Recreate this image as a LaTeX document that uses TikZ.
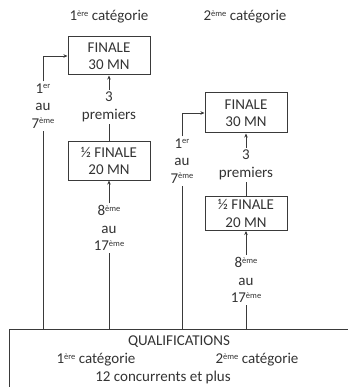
\documentclass[tikz,border=0pt]{standalone}
\usepackage{fontspec}
\setmainfont{Carlito}
\usetikzlibrary{arrows.meta}
\definecolor{ink}{HTML}{333333}
\definecolor{edge}{HTML}{3A3A3A}
\newcommand\supx[1]{\raisebox{0.62ex}{\smash{\fontsize{8.5}{8.5}\selectfont #1}}}
\begin{document}
\begin{tikzpicture}[x=1pt,y=-1pt,
 every node/.style={text=ink, font=\fontsize{15}{17.5}\selectfont},
 box/.style={draw=edge, line width=1pt, minimum width=82pt, align=center, inner sep=0pt},
 lbl/.style={align=center, inner sep=2pt},
 conn/.style={draw=edge, line width=0.8pt},
 arr/.style={conn, -{Stealth[length=4pt,width=3.5pt]}}]
\useasboundingbox (0,0) rectangle (347,387);

\node (c1) at (109,17) {1\supx{ère} catégorie};
\node (c2) at (245,17) {2\supx{ème} catégorie};

\node[box, minimum height=38pt] (F1) at (109,56) {FINALE\\30 MN};
\node[box, minimum height=38pt] (S1) at (109,161) {½ FINALE\\20 MN};
\node[box, minimum height=40pt] (F2) at (246,113) {FINALE\\30 MN};
\node[box, minimum height=34pt] (S2) at (246,213.5) {½ FINALE\\20 MN};

\node[lbl] (p1) at (109,107) {3\\premiers};
\node[lbl] (p2) at (246,165) {3\\premiers};
\node[lbl] (h1) at (109,228) {8\supx{ème}\\au\\17\supx{ème}};
\node[lbl] (h2) at (246,280) {8\supx{ème}\\au\\17\supx{ème}};
\node[lbl] (s1) at (43,106) {1\supx{er}\\au\\7\supx{ème}};
\node[lbl] (s2) at (182,161) {1\supx{er}\\au\\7\supx{ème}};

\node[draw=edge, line width=1pt, anchor=north west, minimum width=400pt, minimum height=90pt, inner sep=0pt] (Q) at (9,329) {};
\node (q1) at (179,342) {QUALIFICATIONS};
\node (q2) at (96,360) {1\supx{ère} catégorie};
\node (q3) at (257,360) {2\supx{ème} catégorie};
\node (q4) at (163,377.5) {12 concurrents et plus};

\draw[arr] (p1) -- (F1);
\draw[conn] (S1) -- (p1);
\draw[arr] (h1) -- (S1);
\draw[conn] (h1 |- Q.north) -- (h1);

\draw[arr] (p2) -- (F2);
\draw[conn] (S2) -- (p2);
\draw[arr] (h2) -- (S2);
\draw[conn] (h2 |- Q.north) -- (h2);

\draw[arr] (s1) |- (F1.west);
\draw[conn] (s1 |- Q.north) -- (s1);
\draw[arr] (s2) |- (F2.west);
\draw[conn] (s2 |- Q.north) -- (s2);
\end{tikzpicture}
\end{document}
